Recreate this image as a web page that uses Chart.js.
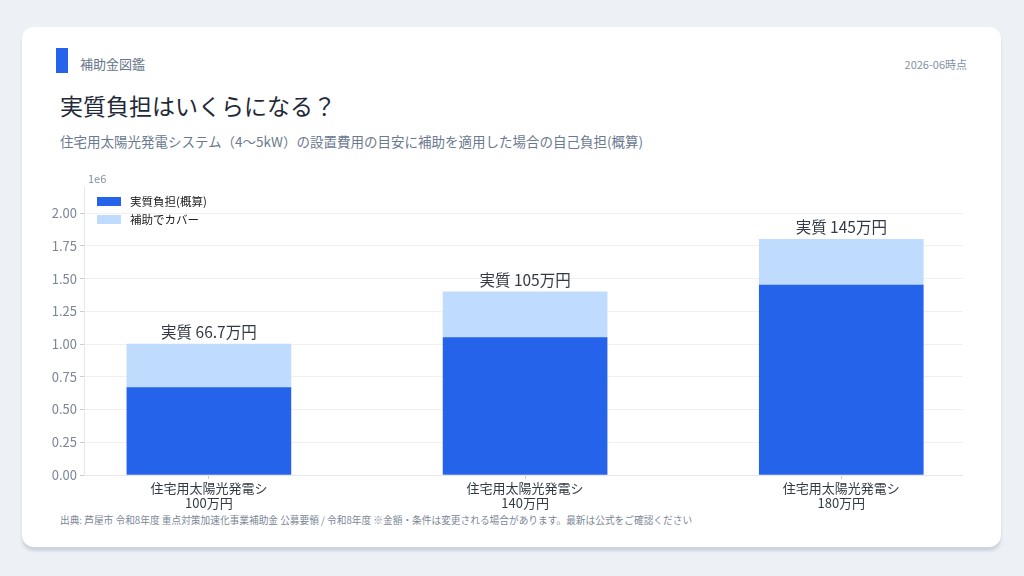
<!DOCTYPE html>
<html lang="ja">
<head>
<meta charset="utf-8">
<script src="https://cdn.jsdelivr.net/npm/chart.js@4.4.1/dist/chart.umd.min.js"></script>
<style>
  html, body { margin: 0; padding: 0; }
  body {
    width: 1024px; height: 576px; background: #edf1f6; position: relative; overflow: hidden;
    font-family: "Noto Sans CJK JP", "Noto Sans", sans-serif;
  }
  .card {
    position: absolute; left: 22px; top: 27px; width: 979px; height: 520px;
    background: #fff; border-radius: 12px;
    box-shadow: 0 4px 3px rgba(120, 135, 160, 0.28);
  }
  .accent { position: absolute; left: 34px; top: 21px; width: 12px; height: 25px; background: #2563eb; }
  .brand { position: absolute; left: 58px; top: 27px; font-size: 13px; color: #64748b; }
  .date { position: absolute; right: 34px; top: 29px; font-size: 11px; color: #8390a2; }
  .title { position: absolute; left: 38px; top: 61px; font-size: 23px; color: #1f2937; }
  .sub { position: absolute; left: 38px; top: 104px; font-size: 13.5px; color: #6b7a8f; }
  .note { position: absolute; left: 38px; top: 486px; font-size: 9.7px; color: #7b8797; }
  .wrap { position: absolute; left: 8px; top: 143px; width: 933px; height: 342px; }
</style>
</head>
<body>
<div class="card">
  <div class="accent"></div>
  <div class="brand">補助金図鑑</div>
  <div class="date">2026-06時点</div>
  <div class="title">実質負担はいくらになる？</div>
  <div class="sub">住宅用太陽光発電システム（4〜5kW）の設置費用の目安に補助を適用した場合の自己負担(概算)</div>
  <div class="wrap"><canvas id="c"></canvas></div>
  <div class="note">出典: 芦屋市 令和8年度 重点対策加速化事業補助金 公募要領 / 令和8年度 ※金額・条件は変更される場合があります。最新は公式をご確認ください</div>
</div>
<script>
const categories = [
  ['住宅用太陽光発電シ', '100万円'],
  ['住宅用太陽光発電シ', '140万円'],
  ['住宅用太陽光発電シ', '180万円']
];
const burden = [667000, 1050000, 1450000];
const covered = [333000, 350000, 350000];
const burdenLabels = ['実質 66.7万円', '実質 105万円', '実質 145万円'];
const yTicks = [0, 250000, 500000, 750000, 1000000, 1250000, 1500000, 1750000, 2000000];

const tickFont = { family: "'Noto Sans CJK JP', 'Noto Sans', sans-serif", size: 13 };

// bar value labels, axis offset text and an in-plot legend
const overlay = {
  id: 'overlay',
  afterDatasetsDraw(chart) {
    const ctx = chart.ctx;
    const area = chart.chartArea;
    const top = chart.getDatasetMeta(1).data;
    ctx.save();
    ctx.font = "15.5px 'Noto Sans CJK JP', sans-serif";
    ctx.fillStyle = '#333a45';
    ctx.textAlign = 'center';
    ctx.textBaseline = 'middle';
    top.forEach((bar, i) => {
      ctx.fillText(burdenLabels[i], bar.x, bar.y - 12);
    });

    ctx.font = "11px 'Noto Sans CJK JP', sans-serif";
    ctx.fillStyle = '#8390a2';
    ctx.textAlign = 'left';
    ctx.fillText('1e6', area.left + 4, area.top - 8);

    ctx.font = "11.5px 'Noto Sans CJK JP', sans-serif";
    chart.data.datasets.forEach((ds, i) => {
      const y = area.top + 15 + i * 18;
      ctx.fillStyle = ds.backgroundColor;
      ctx.fillRect(area.left + 13, y - 5, 24, 9);
      ctx.fillStyle = '#222';
      ctx.fillText(ds.label, area.left + 46, y);
    });
    ctx.restore();
  }
};

new Chart(document.getElementById('c'), {
  type: 'bar',
  data: {
    datasets: [
      {
        label: '実質負担(概算)',
        data: burden.map((v, i) => ({ x: i, y: v })),
        backgroundColor: '#2563eb',
        barThickness: 164,
        stack: 's'
      },
      {
        label: '補助でカバー',
        data: covered.map((v, i) => ({ x: i, y: v })),
        backgroundColor: '#bfdbfe',
        barThickness: 164,
        stack: 's'
      }
    ]
  },
  options: {
    responsive: true,
    maintainAspectRatio: false,
    animation: false,
    layout: { padding: { top: 17, right: 0, left: 0, bottom: 0 } },
    plugins: {
      legend: { display: false },
      tooltip: { enabled: false }
    },
    scales: {
      x: {
        type: 'linear',
        min: -0.395,
        max: 2.385,
        offset: false,
        stacked: true,
        afterBuildTicks: s => { s.ticks = categories.map((c, i) => ({ value: i })); },
        afterFit: s => { s.height = 37; },
        ticks: {
          color: '#333a45',
          font: tickFont,
          padding: 1,
          maxRotation: 0,
          callback: v => categories[v]
        },
        grid: { offset: false, drawOnChartArea: false, tickLength: 4, color: '#c8ced8' },
        border: { color: '#e3e7ee' }
      },
      y: {
        min: 0,
        max: 2200000,
        stacked: true,
        afterBuildTicks: s => { s.ticks = yTicks.map(v => ({ value: v })); },
        afterFit: s => { s.width = 54; },
        ticks: {
          color: '#7b8597',
          font: tickFont,
          padding: 3,
          callback: v => (v / 1e6).toFixed(2)
        },
        grid: { color: '#eef0f4', tickLength: 4, tickColor: '#c8ced8' },
        border: { color: '#e3e7ee' }
      }
    }
  },
  plugins: [overlay]
});
</script>
</body>
</html>
